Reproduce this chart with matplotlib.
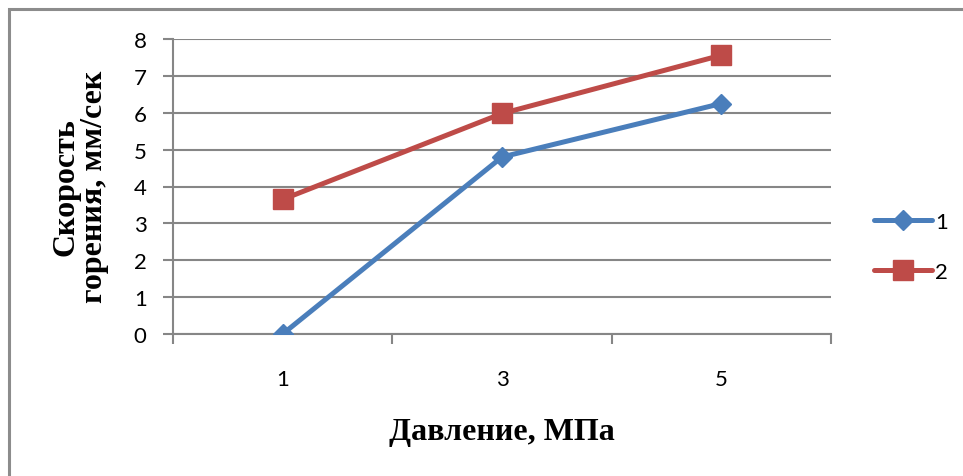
import matplotlib
matplotlib.use("Agg")
import matplotlib.pyplot as plt
from matplotlib.patches import Rectangle
from matplotlib.ticker import FixedLocator

pressure = ["1", "3", "5"]
series_1 = [0.0, 4.8, 6.25]
series_2 = [3.65, 5.98, 7.56]
series_names = ["1", "2"]
y_ticks = [0, 1, 2, 3, 4, 5, 6, 7, 8]

blue = "#4A7EBB"
red = "#BE4B48"
grid_gray = "#868686"

fig = plt.figure(figsize=(9.63, 4.77), dpi=100)
W, H = 963, 477

# chart frame
fig.patches.append(Rectangle((9 / W, -0.1), 1.2, (H - 10) / H + 0.1,
                             transform=fig.transFigure, fill=False,
                             edgecolor="#8C8C8C", linewidth=2.2))

ax = fig.add_axes([173 / W, 1 - 335 / H, (831 - 173) / W, (335 - 40) / H])
x = list(range(len(pressure)))

ax.plot(x, series_1, color=blue, linewidth=3.6, marker="D", markersize=10.5,
        label=series_names[0], solid_capstyle="round", zorder=3)
ax.plot(x, series_2, color=red, linewidth=3.6, marker="s", markersize=14,
        label=series_names[1], solid_capstyle="round", zorder=3)

ax.set_xlim(-0.5, len(pressure) - 0.5)
ax.set_ylim(0, 8)
ax.set_yticks(y_ticks)
ax.set_xticks(x)
ax.set_xticklabels(pressure)
ax.xaxis.set_minor_locator(FixedLocator([i - 0.5 for i in range(len(pressure) + 1)]))

tick_family = ["Lato", "DejaVu Sans"]
for lab in ax.get_xticklabels() + ax.get_yticklabels():
    lab.set_fontfamily(tick_family)
    lab.set_fontsize(16)

ax.tick_params(axis="x", which="major", length=0, pad=25)
ax.tick_params(axis="x", which="minor", length=7, width=1.5, color=grid_gray, direction="out")
ax.tick_params(axis="y", which="major", length=7, width=1.5, color=grid_gray, direction="out", pad=12)

ax.grid(axis="y", color=grid_gray, linewidth=1.5)
ax.set_axisbelow(True)
for side in ("top", "right"):
    ax.spines[side].set_visible(False)
for side in ("left", "bottom"):
    ax.spines[side].set_color(grid_gray)
    ax.spines[side].set_linewidth(1.5)

label_font = dict(family="Liberation Serif", weight="bold", size=23)
fig.text(502 / W, 1 - 433 / H, "Давление, МПа", ha="center", va="center", **label_font)
fig.text(80 / W, 1 - 187 / H, "Скорость\nгорения, мм/сек", ha="center", va="center",
         rotation=90, linespacing=1.0, **label_font)

leg = fig.legend(loc="center left", bbox_to_anchor=(854 / W, 1 - 248 / H),
                 frameon=False, handlelength=2.6, handletextpad=0.15,
                 labelspacing=1.35, prop={"family": tick_family, "size": 16})

fig.savefig("out.png", dpi=100)
